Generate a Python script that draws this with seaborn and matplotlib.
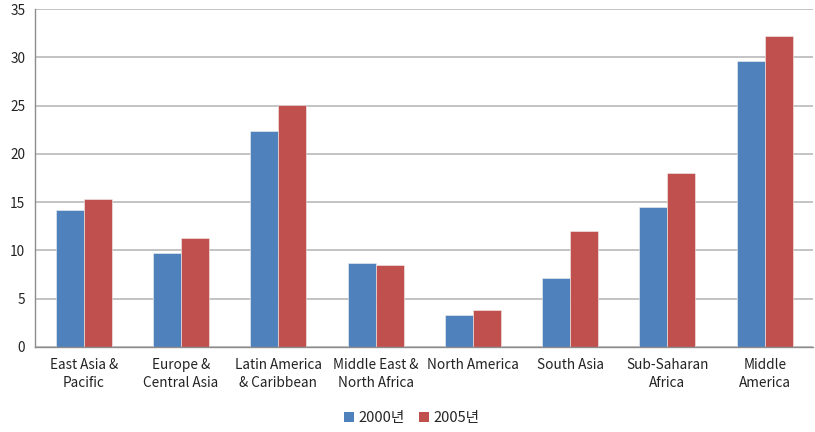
import matplotlib
matplotlib.use("Agg")
import matplotlib.pyplot as plt
import seaborn as sns
import pandas as pd
import numpy as np
from matplotlib.ticker import FixedLocator
from matplotlib.patches import Patch

categories = ["East Asia &\nPacific", "Europe &\nCentral Asia", "Latin America\n& Caribbean",
              "Middle East &\nNorth Africa", "North America", "South Asia",
              "Sub-Saharan\nAfrica", "Middle\nAmerica"]
series_names = ["2000년", "2005년"]
values_2000 = [14.2, 9.7, 22.4, 8.7, 3.3, 7.1, 14.5, 29.6]
values_2005 = [15.3, 11.3, 25.1, 8.5, 3.8, 12.0, 18.0, 32.2]
y_ticks = [0, 5, 10, 15, 20, 25, 30, 35]

df = pd.DataFrame({
    "region": categories * 2,
    "year": [series_names[0]] * len(categories) + [series_names[1]] * len(categories),
    "value": values_2000 + values_2005,
})

sns.set_style("white")
plt.rcParams['font.family'] = ['Noto Sans CJK KR', 'DejaVu Sans']

colors = ["#4F81BD", "#C0504D"]
fig = plt.figure(figsize=(8.15, 4.32), dpi=100)
ax = fig.add_axes([0.043, 0.197, 0.955, 0.782])

sns.barplot(data=df, x="region", y="value", hue="year", palette=colors,
            width=0.575, ax=ax, saturation=1, edgecolor="#F2F2F2", linewidth=0.4,
            legend=False)

ax.set_ylim(0, 35)
ax.set_xlim(-0.5, 7.5)
ax.set_yticks(y_ticks)
ax.yaxis.grid(True, color="#B3B3B3", linewidth=1.1)
ax.set_axisbelow(True)
ax.set_xlabel("")
ax.set_ylabel("")
for s in ["top", "right"]:
    ax.spines[s].set_visible(False)
for s in ["left", "bottom"]:
    ax.spines[s].set_color("#8C8C8C")
    ax.spines[s].set_linewidth(1.0)

ax.tick_params(axis="y", which="major", length=4, color="#8C8C8C", labelsize=9.8,
               labelcolor="#222222", pad=3)
ax.tick_params(axis="x", which="major", length=0, labelsize=9.8, labelcolor="#222222", pad=8)
ax.xaxis.set_minor_locator(FixedLocator(np.arange(-0.5, 8.0, 1.0)))
ax.tick_params(axis="x", which="minor", length=4, color="#8C8C8C", direction="out")
for lab in ax.get_xticklabels():
    lab.set_linespacing(1.4)

handles = [Patch(facecolor=c, edgecolor="none") for c in colors]
fig.legend(handles, series_names, loc="center", bbox_to_anchor=(0.505, 0.033), ncol=2,
           frameon=False, fontsize=10.5, handlelength=0.7, handleheight=0.7,
           handletextpad=0.3, columnspacing=1.0)

fig.savefig("out.png", dpi=100)
